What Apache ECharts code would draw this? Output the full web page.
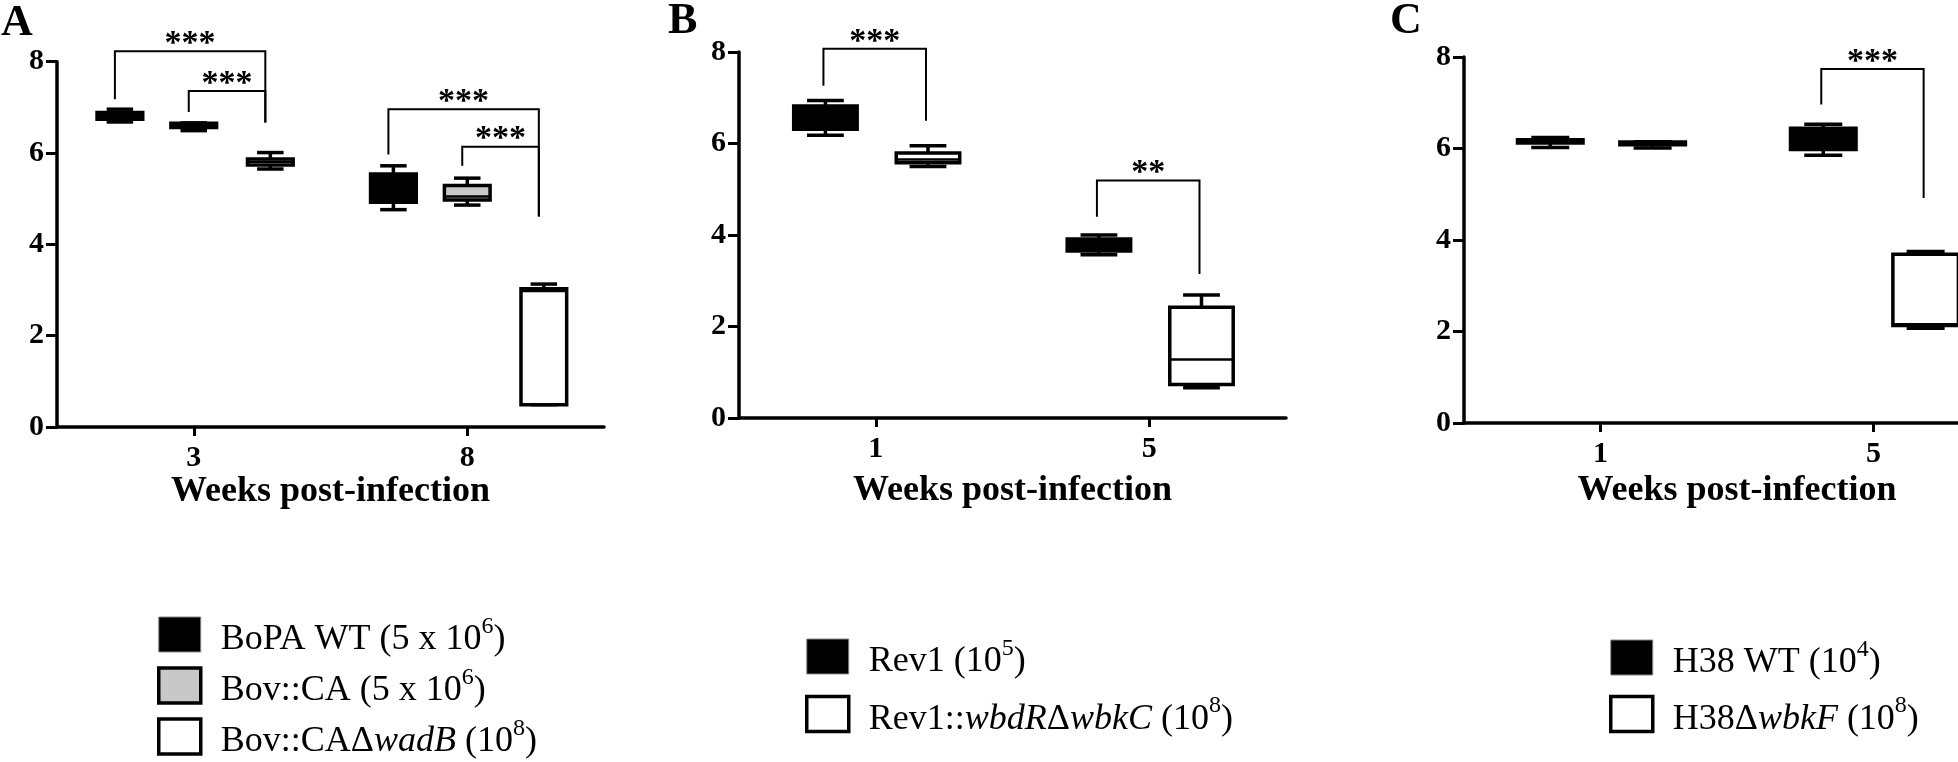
<!DOCTYPE html>
<html>
<head>
<meta charset="utf-8">
<script src="https://cdn.jsdelivr.net/npm/echarts@6/dist/echarts.min.js"></script>
<style>
html,body{margin:0;padding:0;background:#fff;}
#chart{width:1958px;height:762px;}
</style>
</head>
<body>
<div id="chart"></div>
<script>
// ---------------- DATA ----------------
// each row: [min, Q1, median, Q3, max] (log CFU), one row per week category
// Panel A
const weeksA = ['3', '8'];
const boPAWT    = [[6.68, 6.74, 6.81, 6.89, 6.96], [4.76, 4.92, 5.20, 5.54, 5.72]];
const bovCA     = [[6.49, 6.56, 6.60, 6.65, 6.66], [4.86, 4.97, 5.05, 5.29, 5.45]];
const bovCAwadB = [[5.65, 5.74, 5.81, 5.87, 6.01], [0.49, 0.49, 2.98, 3.03, 3.13]];
// significance: [week index, from group, to group, bracket level, from-leg end, to-leg end, stars]
const sigA = [
  [0, 0, 2, 8.23, 7.18, 6.67, '***'],
  [0, 1, 2, 7.36, 6.90, 6.67, '***'],
  [1, 0, 2, 6.96, 5.97, 4.61, '***'],
  [1, 1, 2, 6.14, 5.72, 4.61, '***']
];

// Panel B
const weeksB = ['1', '5'];
const rev1     = [[6.18, 6.31, 6.55, 6.82, 6.94], [3.57, 3.65, 3.80, 3.91, 4.00]];
const rev1wbdR = [[5.50, 5.58, 5.65, 5.79, 5.95], [0.66, 0.73, 1.28, 2.42, 2.69]];
const sigB = [
  [0, 0, 1, 8.07, 7.26, 6.50, '***'],
  [1, 0, 1, 5.19, 4.40, 3.15, '**']
];

// Panel C
const weeksC = ['1', '5'];
const h38WT   = [[6.02, 6.12, 6.15, 6.19, 6.24], [5.85, 5.98, 6.20, 6.44, 6.53]];
const h38wbkF = [[6.01, 6.08, 6.11, 6.14, 6.15], [2.07, 2.13, 2.16, 3.69, 3.75]];
const sigC = [
  [1, 0, 1, 7.74, 6.96, 4.92, '***']
];

const yTicks = {min: 0, max: 8, interval: 2};
const xName = 'Weeks post-infection';
const legendLabels = {
  'BoPA WT (5 x 10^6)': 'BoPA WT (5 x 10{sup|6})',
  'Bov::CA (5 x 10^6)': 'Bov::CA (5 x 10{sup|6})',
  'Bov::CAΔwadB (10^8)': 'Bov::CAΔ{it|wadB} (10{sup|8})',
  'Rev1 (10^5)': 'Rev1 (10{sup|5})',
  'Rev1::wbdRΔwbkC (10^8)': 'Rev1::{it|wbdR}Δ{it|wbkC} (10{sup|8})',
  'H38 WT (10^4)': 'H38 WT (10{sup|4})',
  'H38ΔwbkF (10^8)': 'H38Δ{it|wbkF} (10{sup|8})'
};

// ---------------- STYLE / LAYOUT ----------------
const FONT = '"Liberation Serif","Times New Roman",serif';
const BLACK = {fill: '#000', edge: '#888', edgeW: 1};
const GRAY  = {fill: '#c8c8c8', edge: '#000', edgeW: 3.5};
const WHITE = {fill: '#fff', edge: '#000', edgeW: 3.5};

const panels = [
  {
    letter: 'A', letterPos: [1, 2], weeks: weeksA,
    groups: [
      {name: 'BoPA WT (5 x 10^6)', rows: boPAWT, st: BLACK},
      {name: 'Bov::CA (5 x 10^6)', rows: bovCA, st: GRAY},
      {name: 'Bov::CAΔwadB (10^8)', rows: bovCAwadB, st: WHITE}
    ],
    sig: sigA, slots: [-0.27, 0, 0.28], boxW: 0.167, sigShift: -5,
    grid: {left: 57, top: 61.7, width: 547, height: 365.3},
    nameGap: 45,
    legend: {left: 157, top: 611.5, itemGap: 4.5}
  },
  {
    letter: 'B', letterPos: [668, 0], weeks: weeksB,
    groups: [
      {name: 'Rev1 (10^5)', rows: rev1, st: BLACK},
      {name: 'Rev1::wbdRΔwbkC (10^8)', rows: rev1wbdR, st: WHITE}
    ],
    sig: sigB, slots: [-0.184, 0.191], boxW: 0.232, sigShift: -2,
    grid: {left: 739, top: 52, width: 547, height: 366},
    nameGap: 55,
    legend: {left: 805, top: 633.5, itemGap: 11}
  },
  {
    letter: 'C', letterPos: [1390, 0], weeks: weeksC,
    groups: [
      {name: 'H38 WT (10^4)', rows: h38WT, st: BLACK},
      {name: 'H38ΔwbkF (10^8)', rows: h38wbkF, st: WHITE}
    ],
    sig: sigC, slots: [-0.184, 0.191], boxW: 0.24, sigShift: -2,
    grid: {left: 1464, top: 57, width: 546, height: 366},
    nameGap: 50,
    legend: {left: 1609, top: 634.5, itemGap: 10}
  }
];

function boxRenderer(slot, boxW, fill) {
  return function (params, api) {
    const cat = api.value(0);
    const band = api.size([1, 0])[0];
    const cx = api.coord([cat, 0])[0] + slot * band;
    const w = boxW * band;
    const capW = w * 0.58;
    const y = function (i) { return api.coord([cat, api.value(i)])[1]; };
    const yMin = y(1), yQ1 = y(2), yMed = y(3), yQ3 = y(4), yMax = y(5);
    const ls = {stroke: '#000', lineWidth: 3.5};
    return {
      type: 'group',
      children: [
        {type: 'line', shape: {x1: cx, y1: yMax, x2: cx, y2: yQ3}, style: ls},
        {type: 'line', shape: {x1: cx, y1: yQ1, x2: cx, y2: yMin}, style: ls},
        {type: 'line', shape: {x1: cx - capW / 2, y1: yMax, x2: cx + capW / 2, y2: yMax}, style: ls},
        {type: 'line', shape: {x1: cx - capW / 2, y1: yMin, x2: cx + capW / 2, y2: yMin}, style: ls},
        {type: 'rect', shape: {x: cx - w / 2, y: yQ3, width: w, height: yQ1 - yQ3},
          style: {fill: fill, stroke: '#000', lineWidth: 3.5}},
        {type: 'line', shape: {x1: cx - w / 2, y1: yMed, x2: cx + w / 2, y2: yMed},
          style: {stroke: '#000', lineWidth: 2.5}}
      ]
    };
  };
}

function sigRenderer(p) {
  return function (params, api) {
    const cat = api.value(0);
    const band = api.size([1, 0])[0];
    const c = api.coord([cat, 0])[0] + p.sigShift;
    const xa = c + p.slots[api.value(1)] * band;
    const xb = c + p.slots[api.value(2)] * band;
    const yl = api.coord([cat, api.value(3)])[1];
    const ya = api.coord([cat, api.value(4)])[1];
    const yb = api.coord([cat, api.value(5)])[1];
    const stars = p.sig[params.dataIndex][6];
    return {
      type: 'group',
      children: [
        {type: 'polyline', shape: {points: [[xa, ya], [xa, yl], [xb, yl], [xb, yb]]},
          style: {stroke: '#000', lineWidth: 2, fill: null}},
        {type: 'text', x: (xa + xb) / 2, y: yl - 7,
          style: {text: stars, font: 'bold 34px ' + FONT, fill: '#000', align: 'center', verticalAlign: 'middle'}}
      ]
    };
  };
}

const option = {
  animation: false,
  backgroundColor: '#fff',
  grid: [], xAxis: [], yAxis: [], series: [], legend: [], graphic: []
};

panels.forEach(function (p, pi) {
  option.grid.push(Object.assign({outerBoundsMode: 'none', containLabel: false}, p.grid));
  option.xAxis.push({
    gridIndex: pi, type: 'category', data: p.weeks, boundaryGap: true,
    axisLine: {show: true, onZero: false, lineStyle: {color: '#000', width: 3.5}},
    axisTick: {show: true, alignWithLabel: true, length: 9, lineStyle: {color: '#000', width: 3}},
    axisLabel: {color: '#000', fontFamily: FONT, fontWeight: 'bold', fontSize: 30, margin: 16},
    splitLine: {show: false},
    name: xName, nameLocation: 'middle', nameGap: p.nameGap,
    nameTextStyle: {color: '#000', fontFamily: FONT, fontWeight: 'bold', fontSize: 36}
  });
  option.yAxis.push({
    gridIndex: pi, type: 'value', min: yTicks.min, max: yTicks.max, interval: yTicks.interval,
    axisLine: {show: true, lineStyle: {color: '#000', width: 3.5}},
    axisTick: {show: true, length: 11, lineStyle: {color: '#000', width: 3}},
    axisLabel: {color: '#000', fontFamily: FONT, fontWeight: 'bold', fontSize: 30, margin: 13},
    splitLine: {show: false}
  });
  p.groups.forEach(function (g, gi) {
    option.series.push({
      type: 'custom', name: g.name, coordinateSystem: 'cartesian2d',
      xAxisIndex: pi, yAxisIndex: pi,
      itemStyle: {color: g.st.fill},
      encode: {x: 0, y: [1, 2, 3, 4, 5]},
      data: g.rows.map(function (r, wi) { return [wi].concat(r); }),
      renderItem: boxRenderer(p.slots[gi], p.boxW, g.st.fill),
      silent: true, clip: false
    });
  });
  option.series.push({
    type: 'custom', name: 'sig' + pi, coordinateSystem: 'cartesian2d',
    xAxisIndex: pi, yAxisIndex: pi,
    encode: {x: 0, y: [3, 4, 5]},
    data: p.sig.map(function (s) { return s.slice(0, 6); }),
    renderItem: sigRenderer(p),
    silent: true, clip: false
  });
  option.legend.push({
    orient: 'vertical', left: p.legend.left, top: p.legend.top, padding: 0,
    itemGap: p.legend.itemGap, itemWidth: 42, itemHeight: 35, icon: 'rect',
    selectedMode: false,
    data: p.groups.map(function (g) {
      return {name: g.name, itemStyle: {color: g.st.fill, borderColor: g.st.edge, borderWidth: g.st.edgeW}};
    }),
    formatter: function (name) { return legendLabels[name] || name; },
    textStyle: {
      color: '#000', fontFamily: FONT, fontSize: 36, lineHeight: 35, padding: [11, 0, 0, 15],
      rich: {
        sup: {color: '#000', fontFamily: FONT, fontSize: 24, height: 8, lineHeight: 8, verticalAlign: 'top'},
        it: {color: '#000', fontFamily: FONT, fontSize: 36, fontStyle: 'italic'}
      }
    }
  });
  option.graphic.push({
    type: 'text', left: p.letterPos[0], top: p.letterPos[1],
    style: {text: p.letter, font: 'bold 44px ' + FONT, fill: '#000'}
  });
});

const chart = echarts.init(document.getElementById('chart'), null, {renderer: 'canvas'});
chart.setOption(option);
</script>
</body>
</html>
